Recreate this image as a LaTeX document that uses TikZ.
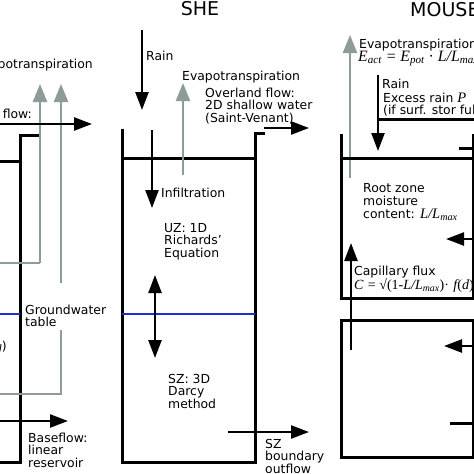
\documentclass[tikz,border=0pt]{standalone}
\usepackage{fontspec}
\setmainfont{DejaVu Sans}
\newfontfamily\tms{Liberation Serif}
\usetikzlibrary{arrows.meta}
\definecolor{grayc}{HTML}{8E9B9B}
\definecolor{bluec}{HTML}{1E2ED0}
\newcommand{\fm}[1]{{\tms\itshape #1}}
\begin{document}
\begin{tikzpicture}[x=1pt,y=-1pt,
  blk/.style={line width=3pt, black, line cap=rect},
  arr/.style={line width=2.4pt, black, -{Triangle[length=18pt,width=13pt]}},
  garr/.style={line width=2.4pt, grayc, -{Triangle[length=18pt,width=14pt]}},
  gline/.style={line width=2.4pt, grayc},
  bline/.style={line width=2.4pt, bluec},
  lbl/.style={anchor=base west, inner sep=0pt, align=left, font=\fontsize{12.4}{12.7}\selectfont},
  lblr/.style={anchor=base east, inner sep=0pt, align=right, font=\fontsize{12.4}{12.7}\selectfont},
  ttl/.style={anchor=base, inner sep=0pt, font=\fontsize{19}{22}\selectfont}]
\useasboundingbox (0,0) rectangle (474,474);
\clip (0,0) rectangle (474,474);
\fill[white] (0,0) rectangle (474,474);

% ---------------- left (cropped) column ----------------
\draw[blk] (37,135) -- (20,135) -- (20,462) -- (0,462);
\draw[blk] (0,161) -- (20,161);
\draw[bline] (0,314) -- (20,314);
\draw[gline] (0,263) -- (40,263);
\draw[garr] (40,263) -- (40,84);
\draw[garr] (61,283) -- (61,84);
\draw[gline] (61,330) -- (61,394) -- (0,394);
\draw[arr] (0,124) -- (92,124);
\draw[arr] (0,421) -- (68,421);
\node[lblr] (lev) at (93,68) {Evapotranspiration};
\node[lblr] (lof) at (32,118) {Overland flow:};
\node[lbl] (lgw) at (25,326.7) {Groundwater\\table};
\node[lblr] (lg) at (7,350) {\fm{g})};
\node[lbl] (lbf) at (28,467.4) {Baseflow:\\linear\\reservoir};

% ---------------- SHE ----------------
\node[ttl] (she) at (200,15) {SHE};
\draw[blk] (122,130) -- (122,462) -- (255,462) -- (255,133) -- (263,133);
\draw[blk] (122,158) -- (255,158);
\draw[bline] (122,314) -- (255,314);
\draw[arr] (142,30) -- (142,110);
\draw[garr] (183,175) -- (183,83);
\draw[arr] (264,128) -- (309,128);
\draw[arr] (152,130) -- (152,208);
\draw[line width=2.4pt, {Triangle[length=18pt,width=13pt]}-{Triangle[length=18pt,width=13pt]}] (155,275) -- (155,358);
\draw[arr] (228,432) -- (309,432);
\node[lbl] (srain) at (146,60) {Rain};
\node[lbl] (sev) at (182,80) {Evapotranspiration};
\node[lbl] (sof) at (205,122.4) {Overland flow:\\2D shallow water\\(Saint-Venant)};
\node[lbl] (sinf) at (161,197) {Infiltration};
\node[lbl] (suz) at (164,257.4) {UZ: 1D\\Richards'\\Equation};
\node[lbl] (ssz) at (168,408.4) {SZ: 3D\\Darcy\\method};
\node[lbl] (sbo) at (265,473.4) {SZ\\boundary\\outflow};

% ---------------- MOUSE ----------------
\node[ttl, anchor=base west] (mouse) at (410,16) {MOUSE};
\draw[garr] (350,178) -- (350,35);
\draw[arr] (378,75) -- (378,151);
\draw[blk] (378,119) -- (476,119);
\draw[blk] (341,135) -- (341,298) -- (473,298) -- (473,135);
\draw[blk] (341,158) -- (476,158);
\draw[blk] (460,148) -- (476,148);
\draw[arr] (476,239) -- (446,239);
\draw[arr] (351,350) -- (351,243);
\draw[blk] (341,320) rectangle (473,457);
\draw[arr] (476,346) -- (444,346);
\draw[blk] (451,423) -- (473,423);
\node[lbl] (mev) at (359,48) {Evapotranspiration};
\node[lbl] (mf1) at (358,61.5) {\fontsize{15.8}{15.8}\selectfont\fm{E\textsubscript{act} = E\textsubscript{pot} {\upshape·} L/L\textsubscript{max}}};
\node[lbl] (mrain) at (382,88) {Rain};
\node[lbl] (mex) at (383,114.7) {Excess rain \fm{\fontsize{14.5}{14}\selectfont P}\\(if surf. stor full)};
\node[lbl] (mrz) at (363,218) {Root zone\\moisture\\content: \fm{\fontsize{14.5}{14}\selectfont L/L\textsubscript{max}}};
\node[lbl] (mcap) at (354,275) {Capillary flux};
\node[lbl] (mf2) at (354,289) {\fontsize{14}{14}\selectfont\fm{C} {\tms= √(1-}\fm{L/L\textsubscript{max}}{\tms)·} \fm{f}{\tms(}\fm{d}{\tms)}};
\end{tikzpicture}
\end{document}
